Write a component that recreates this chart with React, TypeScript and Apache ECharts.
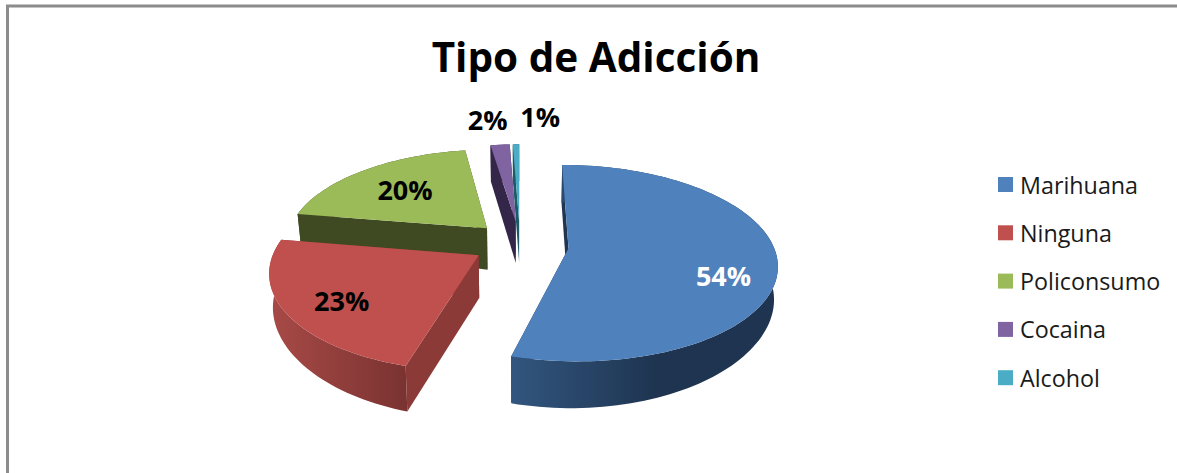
import React, { useEffect, useRef } from "react";
import * as echarts from "echarts";

const titleText = "Tipo de Adicción";
const categories = ["Marihuana", "Ninguna", "Policonsumo", "Cocaina", "Alcohol"];
const shares = [54.4, 23.2, 20.0, 1.8, 0.6];
const topColors = ["#4f81bd", "#c0504d", "#9bbb59", "#8064a2", "#4bacc6"];
const cutColors = ["#1f3550", "#8c3a37", "#404a22", "#332648", "#1d5a68"];
const wallLeft = ["#32567f", "#a84a47", "#404a22", "#332648", "#1d5a68"];
const wallRight = ["#1e3450", "#7a3331", "#404a22", "#332648", "#1d5a68"];
const labelTexts = ["54%", "23%", "20%", "2%", "1%"];
const labelFill = ["#ffffff", "#000000", "#000000", "#000000", "#000000"];
// label offset from each slice's apex
const labelOffset = [[155, 27], [-137, 45], [-82, -39], [-28, -102], [21, -105]];
// painter's order: far slices first
const drawOrder = [2, 3, 4, 1, 0];

const FONT = "'Open Sans', sans-serif";
const CX = 520, CY = 246, A_RIGHT = 205, A_LEFT = 203, B = 95.3, K = 0.15, EX = 0.238, EY_FAR = 0.27, EY_NEAR = 0.18;

const total = shares.reduce((a, b) => a + b, 0);

function project(u: number, v: number) {
  const s = 1 / (1 + K * v);
  return [CX + (u < 0 ? A_LEFT : A_RIGHT) * u * s, CY - B * v * s];
}
function lower(u: number, v: number) {
  const p = project(u, v);
  return [CX + (p[0] - CX) * 0.985, p[1] + 42.5 - 4.5 * v - 7 * u * u];
}

function sliceShape(i: number) {
  const before = shares.slice(0, i).reduce((a, b) => a + b, 0);
  const a0 = (before / total) * Math.PI * 2;
  const a1 = ((before + shares[i]) / total) * Math.PI * 2;
  const mid = (a0 + a1) / 2;
  const c = Math.cos(mid);
  const ou = EX * Math.sin(mid), ov = (c < 0 ? EY_NEAR : EY_FAR) * c;
  const n = Math.max(2, Math.ceil((a1 - a0) / 0.03));
  const top: number[][] = [], bot: number[][] = [];
  for (let k = 0; k <= n; k++) {
    const t = a0 + ((a1 - a0) * k) / n;
    const u = ou + Math.sin(t), v = ov + Math.cos(t);
    top.push(project(u, v));
    bot.push(lower(u, v));
  }
  return { top, bot, apexTop: project(ou, ov), apexBot: lower(ou, ov) };
}

function makeRender(i: number) {
  return () => {
    const s = sliceShape(i);
    const xs = s.top.map((p) => p[0]);
    const minX = Math.min(...xs), maxX = Math.max(...xs);
    const poly = (points: number[][], fill: any) => ({
      type: "polygon",
      shape: { points },
      style: { fill, stroke: null },
    });
    const grad = {
      type: "linear", global: true,
      x: minX, y: 0, x2: i === 0 ? minX + (maxX - minX) * 0.55 : maxX, y2: 0,
      colorStops: [
        { offset: 0, color: wallLeft[i] },
        { offset: 1, color: wallRight[i] },
      ],
    };
    const last = s.top.length - 1;
    return {
      type: "group",
      children: [
        poly([s.apexTop, s.top[0], s.bot[0], s.apexBot], cutColors[i]),
        poly([s.apexTop, s.top[last], s.bot[last], s.apexBot], cutColors[i]),
        poly([...s.top, ...[...s.bot].reverse()], grad),
        poly([s.apexTop, ...s.top], topColors[i]),
        {
          type: "text",
          x: s.apexTop[0] + labelOffset[i][0],
          y: s.apexTop[1] + labelOffset[i][1],
          style: {
            text: labelTexts[i],
            fill: labelFill[i],
            font: `bold 27px ${FONT}`,
            align: "center",
            verticalAlign: "middle",
          },
        },
      ],
    };
  };
}

export default function App() {
  const ref = useRef<HTMLDivElement>(null);
  useEffect(() => {
    document.body.style.margin = "0";
    const chart = echarts.init(ref.current!, null, { renderer: "svg" });
    chart.setOption({
      animation: false,
      backgroundColor: "#ffffff",
      title: {
        text: titleText,
        left: 591,
        top: 31,
        textAlign: "center",
        textStyle: { fontFamily: FONT, fontWeight: "bold", fontSize: 40.5, color: "#000000" },
      },
      legend: {
        orient: "vertical",
        left: 993,
        top: 168,
        icon: "rect",
        itemWidth: 15,
        itemHeight: 15,
        itemGap: 25.3,
        itemStyle: { borderWidth: 0 },
        data: categories,
        textStyle: { fontFamily: FONT, fontSize: 23.3, color: "#1a1a1a", padding: [0, 0, 0, 2] },
      },
      graphic: [
        {
          type: "polyline",
          shape: { points: [[7.5, 473], [7.5, 6], [1177, 6]] },
          style: { stroke: "#8c8c8c", lineWidth: 3, fill: null },
        },
      ],
      series: drawOrder.map((i, z) => ({
        type: "custom",
        name: categories[i],
        coordinateSystem: "none",
        z: 2 + z,
        itemStyle: { color: topColors[i] },
        data: [[shares[i]]],
        renderItem: makeRender(i),
      })),
    });
    return () => chart.dispose();
  }, []);
  return <div ref={ref} style={{ position: "fixed", left: 0, top: 0, width: 1177, height: 473 }} />;
}
